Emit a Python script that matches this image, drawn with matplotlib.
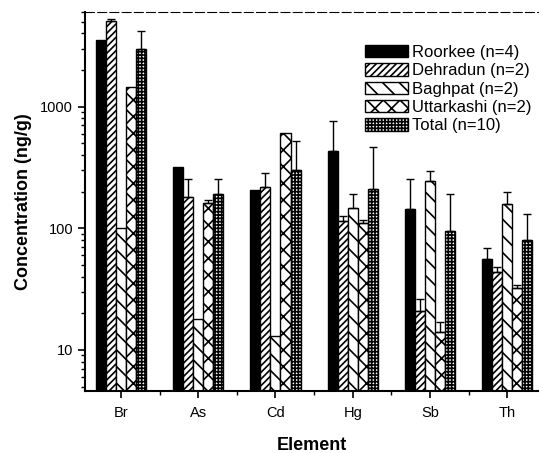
import numpy as np
import matplotlib
matplotlib.use("Agg")
import matplotlib.pyplot as plt

plt.rcParams['font.family'] = ['Liberation Sans', 'DejaVu Sans']
plt.rcParams['hatch.linewidth'] = 1.2

elements = ['Br', 'As', 'Cd', 'Hg', 'Sb', 'Th']
sites = ['Roorkee (n=4)', 'Dehradun (n=2)', 'Baghpat (n=2)', 'Uttarkashi (n=2)', 'Total (n=10)']

# mean concentrations (ng/g)
roorkee = [3500, 320, 205, 430, 145, 56]
dehradun = [5100, 180, 220, 115, 21, 44]
baghpat = [100, 18, 13, 148, 245, 158]
uttarkashi = [1450, 160, 610, 110, 14, 32]
total = [3000, 190, 300, 210, 95, 80]

# top of the error bars
roorkee_err = [3500, 320, 205, 760, 255, 69]
dehradun_err = [5300, 255, 285, 125, 26, 48]
baghpat_err = [100, 18, 13, 190, 295, 200]
uttarkashi_err = [1450, 170, 610, 118, 17, 34]
total_err = [4200, 255, 520, 470, 190, 132]

series = [roorkee, dehradun, baghpat, uttarkashi, total]
tops = [roorkee_err, dehradun_err, baghpat_err, uttarkashi_err, total_err]
hatches = [None, '/////', '\\\\', 'xx', '+++++']
faces = ['black', 'white', 'white', 'white', 'white']

fig = plt.figure(figsize=(5.43, 4.53), dpi=100)
ax = fig.add_axes([0.1565, 0.137, 0.8345, 0.8365])

x = np.arange(len(elements))
w = 0.13
for i in range(5):
    vals = np.array(series[i], dtype=float)
    up = np.array(tops[i], dtype=float) - vals
    ax.bar(x + (i - 2) * w, vals, w, color=faces[i], edgecolor='black',
           hatch=hatches[i], linewidth=1.0, label=sites[i], zorder=2)
    m = up > 0
    ax.errorbar((x + (i - 2) * w)[m], vals[m], yerr=[np.zeros(m.sum()), up[m]],
                fmt='none', ecolor='black', elinewidth=1.0, capsize=3, capthick=1.0, zorder=3)

ax.set_yscale('log')
ax.set_ylim(4.6, 6000)
ax.set_xlim(-0.466, 5.4)
ax.set_xticks(x)
ax.set_xticklabels(elements)
ax.set_xticks(x[:-1] + 0.5, minor=True)
ax.set_yticks([10, 100, 1000])
ax.set_yticklabels(['10', '100', '1000'])

ax.tick_params(axis='both', which='major', labelsize=10.5, length=5, width=1.2, direction='out')
ax.tick_params(axis='x', which='major', pad=6)
ax.tick_params(axis='both', which='minor', length=3, width=1.0, direction='out')

ax.spines['right'].set_visible(False)
ax.spines['top'].set_linestyle((0, (8, 3)))
ax.spines['top'].set_linewidth(0.8)
ax.spines['left'].set_linewidth(1.5)
ax.spines['bottom'].set_linewidth(1.5)

ax.set_ylabel('Concentration (ng/g)', fontsize=13, fontweight='bold', labelpad=6)
ax.set_xlabel('Element', fontsize=13, fontweight='bold', labelpad=12)

fig.legend(loc='upper left', bbox_to_anchor=(365 / 543, 1 - 45 / 453), frameon=False,
           fontsize=12, handlelength=2.6, handleheight=0.75, handletextpad=0.2,
           labelspacing=0.2, borderpad=0, borderaxespad=0)

fig.savefig('out.png', dpi=100)
